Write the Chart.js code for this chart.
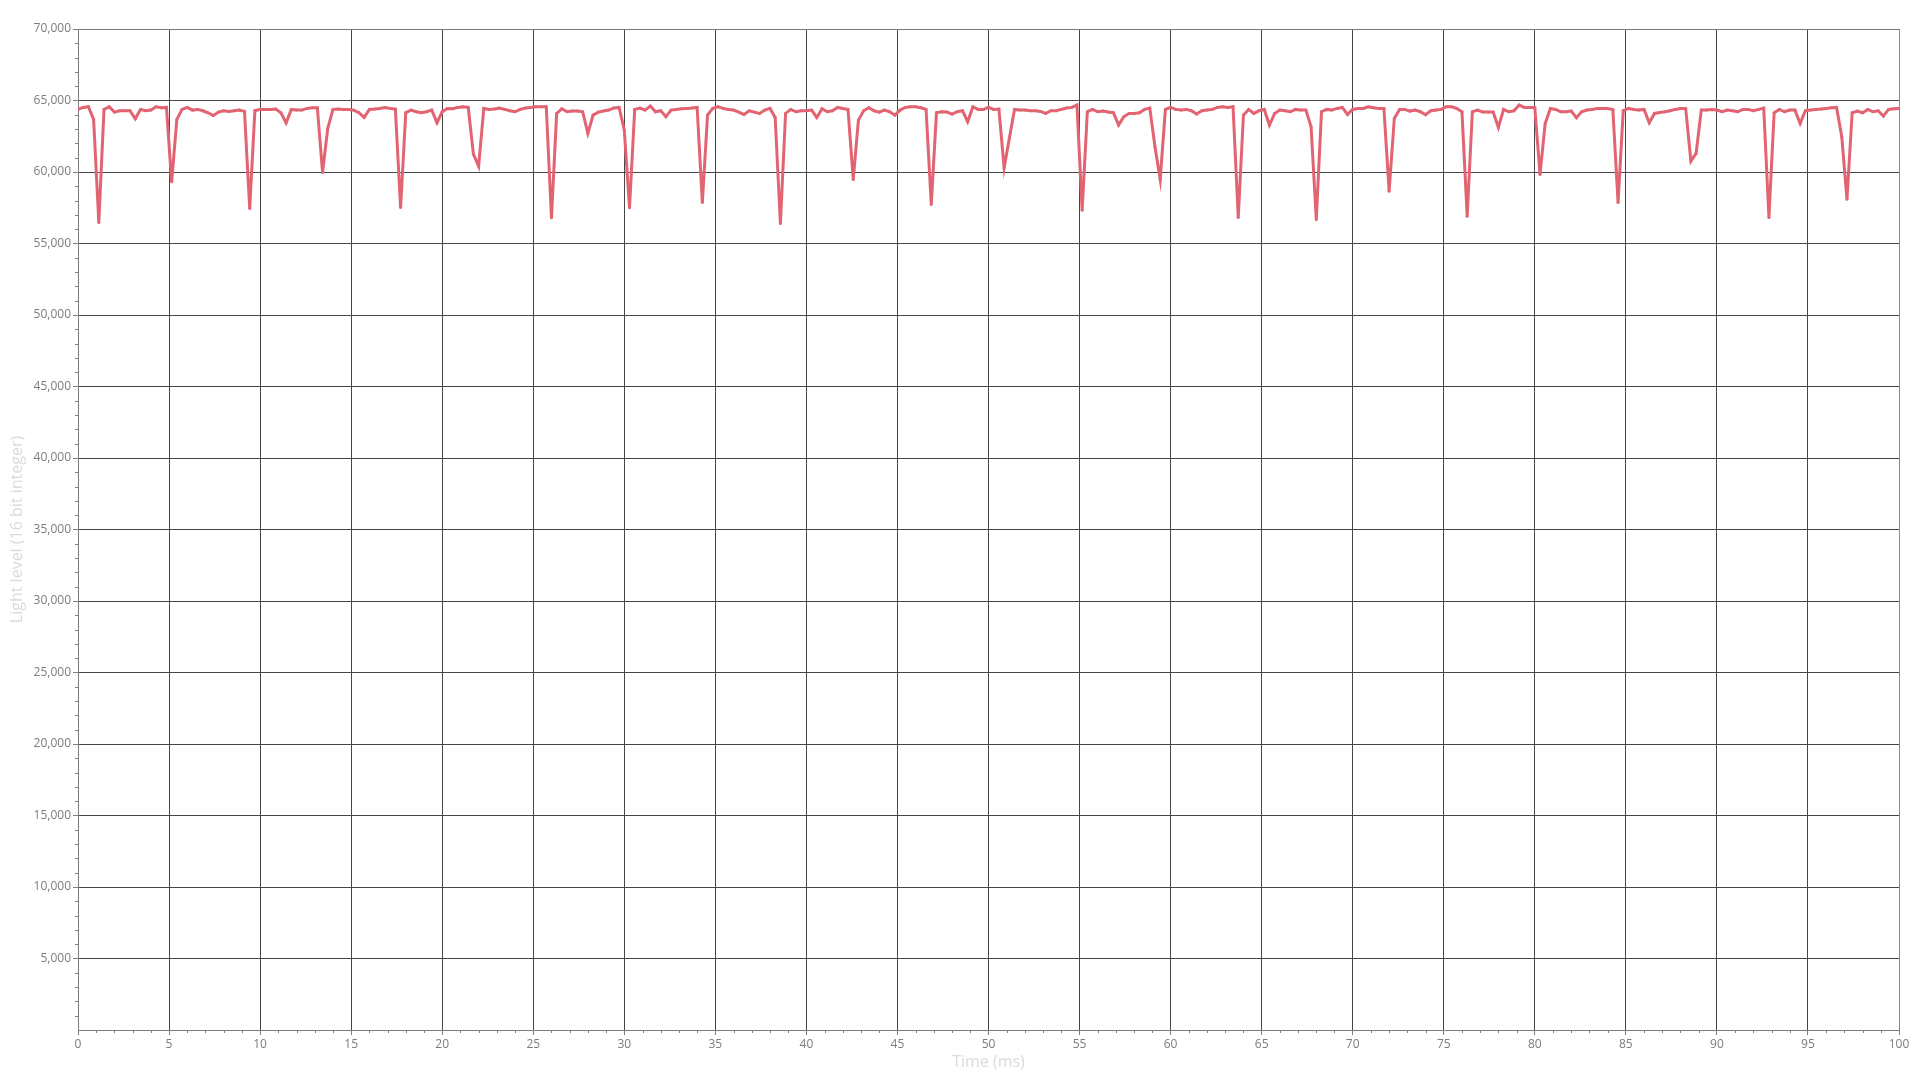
<!DOCTYPE html>
<html>
<head>
<meta charset="utf-8">
<script src="https://cdn.jsdelivr.net/npm/chart.js@4.4.1/dist/chart.umd.min.js"></script>
<style>
html,body{margin:0;padding:0;background:#ffffff;}
#wrap{width:1920px;height:1080px;position:relative;}
</style>
</head>
<body>
<div id="wrap"><canvas id="c" width="1920" height="1080"></canvas></div>
<script>
// ---- data ----
const sampleIntervalMs = 100 / 350;   // one sample every ~0.286 ms (3.5 kHz)
const lightLevel = [
  64377, 64517, 64563, 63677, 56468, 64377, 64563, 64190, 64283, 64283,
  64283, 63724, 64377, 64283, 64330, 64563, 64493, 64517, 59314, 63677,
  64377, 64517, 64330, 64377, 64283, 64143, 63957, 64190, 64283, 64237,
  64283, 64330, 64237, 57448, 64283, 64377, 64377, 64377, 64400, 64144,
  63444, 64377, 64330, 64330, 64447, 64493, 64493, 59967, 63047, 64377,
  64400, 64377, 64377, 64330, 64144, 63817, 64377, 64400, 64447, 64517,
  64447, 64400, 57518, 64144, 64330, 64213, 64144, 64213, 64330, 63444,
  64213, 64447, 64423, 64517, 64563, 64517, 61250, 60410, 64447, 64377,
  64400, 64470, 64377, 64283, 64213, 64377, 64470, 64517, 64563, 64563,
  64563, 56795, 64097, 64423, 64213, 64260, 64260, 64213, 62697, 63980,
  64190, 64260, 64330, 64470, 64517, 62930, 57495, 64377, 64470, 64330,
  64610, 64213, 64283, 63864, 64330, 64377, 64423, 64447, 64470, 64517,
  57868, 63980, 64447, 64563, 64447, 64377, 64330, 64190, 64027, 64283,
  64190, 64097, 64330, 64447, 63817, 56400, 64097, 64377, 64213, 64283,
  64283, 64330, 63817, 64423, 64213, 64283, 64517, 64447, 64377, 59478,
  63630, 64283, 64493, 64283, 64190, 64330, 64213, 63980, 64330, 64517,
  64563, 64563, 64493, 64377, 57728, 64144, 64213, 64190, 64050, 64213,
  64283, 63514, 64563, 64377, 64377, 64517, 64377, 64400, 60294, 62347,
  64377, 64330, 64330, 64283, 64283, 64237, 64097, 64283, 64283, 64377,
  64470, 64517, 64680, 57330, 64213, 64377, 64213, 64260, 64190, 64144,
  63280, 63864, 64097, 64097, 64144, 64377, 64470, 61763, 59478, 64377,
  64517, 64377, 64330, 64377, 64283, 64050, 64283, 64330, 64377, 64517,
  64563, 64517, 64563, 56818, 63980, 64377, 64097, 64283, 64377, 63280,
  64097, 64330, 64283, 64213, 64377, 64330, 64330, 63163, 56678, 64213,
  64377, 64330, 64447, 64517, 64027, 64377, 64447, 64447, 64563, 64493,
  64447, 64447, 58660, 63750, 64377, 64377, 64260, 64330, 64213, 64004,
  64283, 64330, 64377, 64563, 64563, 64447, 64213, 56911, 64213, 64330,
  64190, 64190, 64190, 63117, 64377, 64213, 64283, 64680, 64517, 64517,
  64517, 59828, 63397, 64447, 64377, 64213, 64213, 64260, 63794, 64213,
  64330, 64377, 64447, 64447, 64447, 64377, 57868, 64283, 64447, 64377,
  64330, 64377, 63444, 64097, 64167, 64213, 64283, 64377, 64447, 64447,
  60761, 61297, 64330, 64330, 64377, 64330, 64213, 64330, 64283, 64213,
  64377, 64377, 64283, 64377, 64470, 56818, 64144, 64377, 64213, 64330,
  64330, 63397, 64283, 64330, 64377, 64400, 64447, 64493, 64517, 62464,
  58100, 64143, 64260, 64143, 64377, 64213, 64283, 63910, 64377, 64423,
  64447
];
const xAxisTitle = 'Time (ms)';
const yAxisTitle = 'Light level (16 bit integer)';
const xRange = [0, 100];
const xMajorStep = 5;
const xMinorStep = 1;
const yRange = [0, 70000];
const yMajorStep = 5000;
const yMinorStep = 1000;

// ---- styles ----
const LINE_COLOR = 'rgb(226,100,114)';
const GRID_COLOR = '#464646';
const AXIS_COLOR = '#7d7d7d';
const TICK_TEXT = '#7c7c7c';
const TITLE_TEXT = '#dadada';
const FONT = "'Open Sans', 'Noto Sans', sans-serif";

const points = lightLevel.map((v, i) => ({ x: i * sampleIntervalMs, y: v }));

const minorTicks = {
  id: 'minorTicks',
  afterDraw(chart) {
    const { ctx, chartArea, scales } = chart;
    const xs = scales.x, ys = scales.y;
    ctx.save();
    ctx.strokeStyle = AXIS_COLOR;
    ctx.lineWidth = 1;
    ctx.beginPath();
    for (let v = yRange[0] + yMinorStep; v < yRange[1]; v += yMinorStep) {
      if (v % yMajorStep === 0) continue;
      const py = Math.round(ys.getPixelForValue(v)) + 0.5;
      ctx.moveTo(chartArea.left - 3, py);
      ctx.lineTo(chartArea.left, py);
    }
    for (let v = xRange[0] + xMinorStep; v < xRange[1]; v += xMinorStep) {
      if (v % xMajorStep === 0) continue;
      const px = Math.round(xs.getPixelForValue(v)) + 0.5;
      ctx.moveTo(px, chartArea.bottom);
      ctx.lineTo(px, chartArea.bottom + 3);
    }
    ctx.stroke();
    ctx.restore();
  }
};

new Chart(document.getElementById('c'), {
  type: 'line',
  data: {
    datasets: [{
      label: 'Light level',
      data: points,
      borderColor: LINE_COLOR,
      backgroundColor: LINE_COLOR,
      borderWidth: 3,
      pointRadius: 1.5,
      pointBorderWidth: 0,
      pointBackgroundColor: LINE_COLOR,
      tension: 0,
      fill: false
    }]
  },
  options: {
    responsive: false,
    devicePixelRatio: 1,
    animation: false,
    events: [],
    layout: { padding: { top: 29, right: 21, left: 0, bottom: 0 } },
    plugins: {
      legend: { display: false },
      tooltip: { enabled: false },
      title: { display: false }
    },
    scales: {
      x: {
        type: 'linear',
        min: xRange[0],
        max: xRange[1],
        afterFit: s => { s.height = 50; },
        border: { display: true, color: AXIS_COLOR, width: 1 },
        grid: {
          color: c => (c.tick && c.tick.value === xRange[0]) ? 'rgba(0,0,0,0)' :
                      (c.tick && c.tick.value === xRange[1]) ? '#8a8a8a' : GRID_COLOR,
          lineWidth: 1,
          drawTicks: true,
          tickLength: 5,
          tickColor: AXIS_COLOR
        },
        ticks: {
          stepSize: xMajorStep,
          autoSkip: false,
          maxRotation: 0,
          padding: 2,
          color: TICK_TEXT,
          font: { family: FONT, size: 12 }
        },
        title: {
          display: true,
          text: xAxisTitle,
          color: TITLE_TEXT,
          font: { family: FONT, size: 16 },
          padding: { top: 0, bottom: 8 }
        }
      },
      y: {
        type: 'linear',
        min: yRange[0],
        max: yRange[1],
        afterFit: s => { s.width = 78; },
        border: { display: true, color: AXIS_COLOR, width: 1 },
        grid: {
          color: c => (c.tick && c.tick.value === yRange[0]) ? 'rgba(0,0,0,0)' :
                      (c.tick && c.tick.value === yRange[1]) ? '#7a7a7a' : GRID_COLOR,
          lineWidth: 1,
          drawTicks: true,
          tickLength: 5,
          tickColor: c => (c.tick && c.tick.value === yRange[0]) ? 'rgba(0,0,0,0)' : AXIS_COLOR
        },
        ticks: {
          stepSize: yMajorStep,
          autoSkip: false,
          padding: 2,
          color: TICK_TEXT,
          font: { family: FONT, size: 12 },
          callback: v => v === yRange[0] ? '' : Number(v).toLocaleString('en-US')
        },
        title: {
          display: true,
          text: yAxisTitle,
          color: TITLE_TEXT,
          font: { family: FONT, size: 16 },
          padding: { top: 8, bottom: 0 }
        }
      }
    }
  },
  plugins: [minorTicks]
});
</script>
</body>
</html>
